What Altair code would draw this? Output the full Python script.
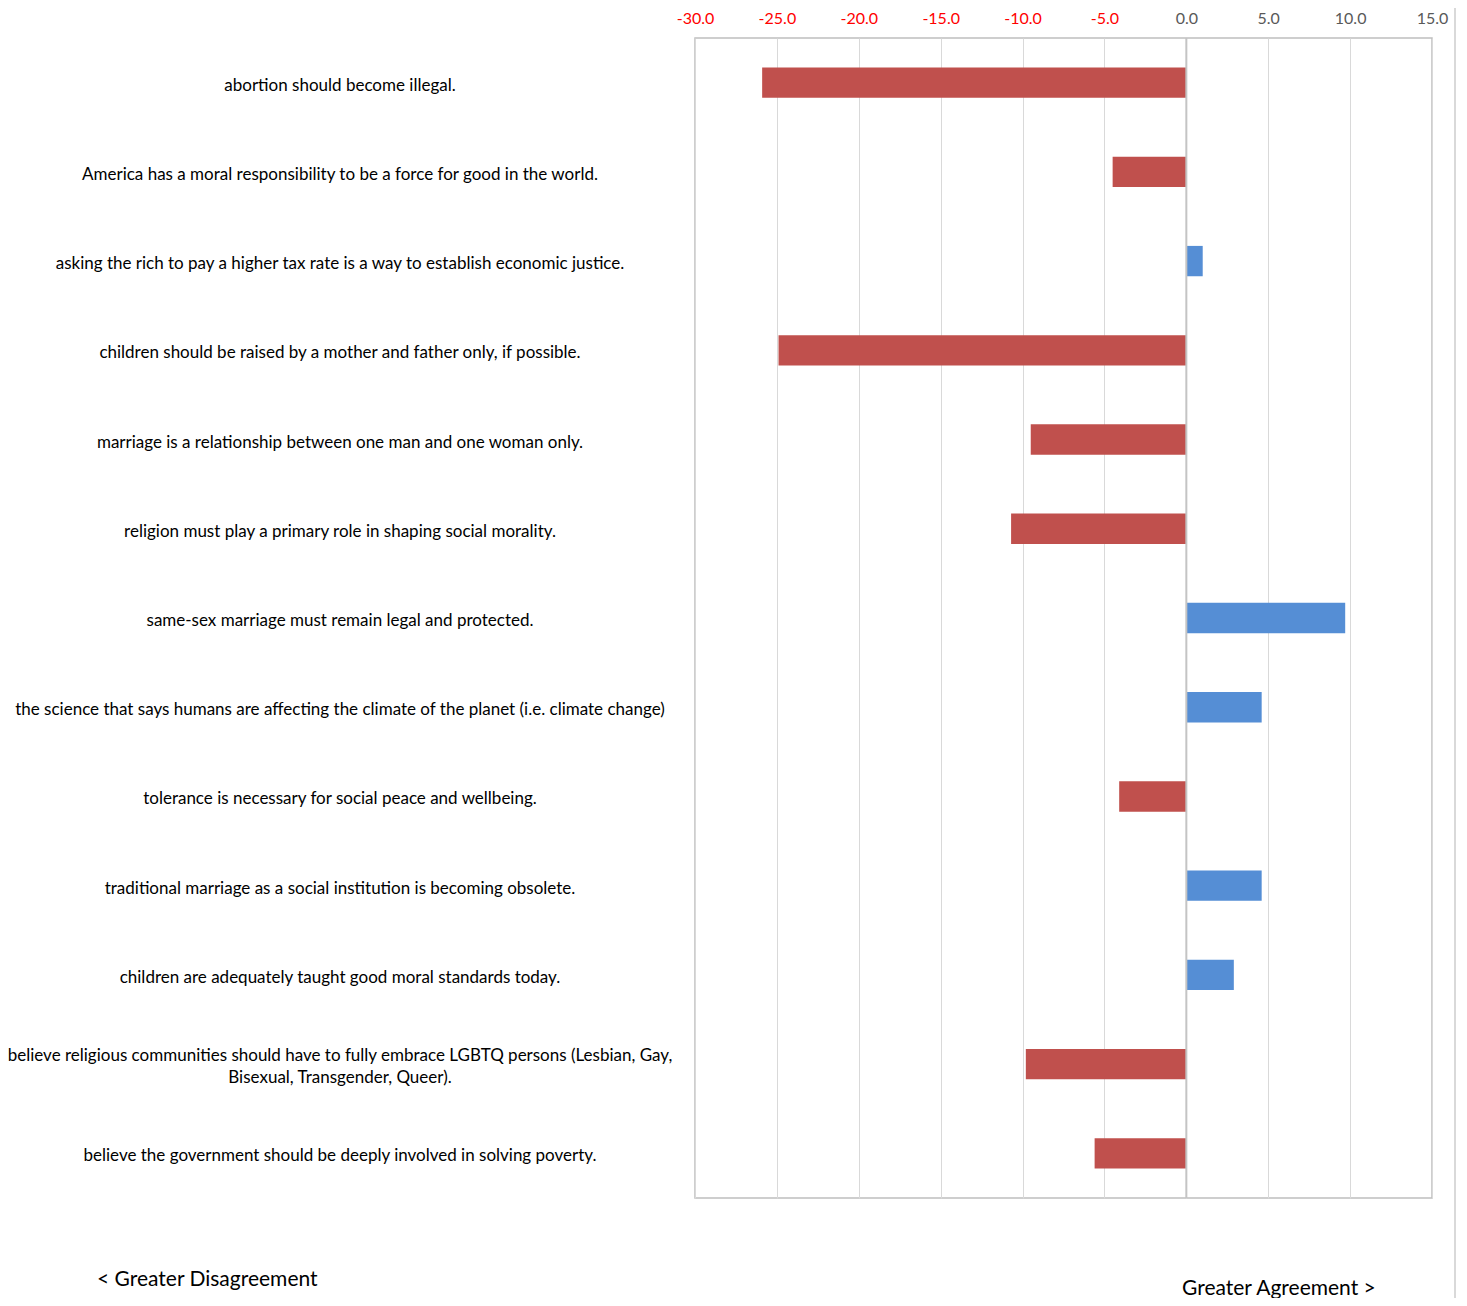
import altair as alt
import pandas as pd

statements = [
    "abortion should become illegal.",
    "America has a moral responsibility to be a force for good in the world.",
    "asking the rich to pay a higher tax rate is a way to establish economic justice.",
    "children should be raised by a mother and father only, if possible.",
    "marriage is a relationship between one man and one woman only.",
    "religion must play a primary role in shaping social morality.",
    "same-sex marriage must remain legal and protected.",
    "the science that says humans are affecting the climate of the planet (i.e. climate change)",
    "tolerance is necessary for social peace and wellbeing.",
    "traditional marriage as a social institution is becoming obsolete.",
    "children are adequately taught good moral standards today.",
    "believe religious communities should have to fully embrace LGBTQ persons (Lesbian, Gay,|Bisexual, Transgender, Queer).",
    "believe the government should be deeply involved in solving poverty.",
]
values = [-25.9, -4.5, 1.0, -24.9, -9.5, -10.7, 9.7, 4.6, -4.1, 4.6, 2.9, -9.8, -5.6]
x_ticks = [-30, -25, -20, -15, -10, -5, 0, 5, 10, 15]

df = pd.DataFrame({"statement": statements, "value": values})

FONT = "Lato"
W, H = 737, 1160

y_enc = alt.Y(
    "statement:N",
    sort=statements,
    axis=None,
    scale=alt.Scale(paddingInner=0.66, paddingOuter=0.33),
)

bars = alt.Chart(df).mark_bar().encode(
    x=alt.X(
        "value:Q",
        scale=alt.Scale(domain=[-30, 15], nice=False, zero=False),
        axis=alt.Axis(
            orient="top",
            values=x_ticks,
            title=None,
            ticks=False,
            domain=False,
            grid=True,
            gridColor="#d9d9d9",
            gridWidth=1,
            labelFont=FONT,
            labelFontSize=16,
            labelPadding=12,
            labelFlush=False,
            labelOverlap=False,
            labelColor={"expr": "datum.value < 0 ? '#ff0000' : '#595959'"},
            labelExpr="(datum.value < 0 ? '-' : '') + format(abs(datum.value), '.1f')",
        ),
    ),
    y=y_enc,
    color=alt.condition(alt.datum.value < 0, alt.value("#c0504d"), alt.value("#558ed5")),
)

zero_line = alt.Chart(pd.DataFrame({"z": [0]})).mark_rule(color="#c4c4c4", strokeWidth=2).encode(
    x="z:Q"
)

labels_single = alt.Chart(df).transform_filter(
    "indexof(datum.statement, '|') < 0"
).mark_text(
    font=FONT, fontSize=17, align="center", baseline="middle",
    color="#000000", dy=3,
).encode(
    x=alt.value(-355),
    y=y_enc,
    text="statement:N",
)

labels_multi = alt.Chart(df).transform_filter(
    "indexof(datum.statement, '|') >= 0"
).mark_text(
    font=FONT, fontSize=17, align="center", baseline="middle", lineBreak="|",
    color="#000000", lineHeight=22, dy=-8,
).encode(
    x=alt.value(-355),
    y=y_enc,
    text="statement:N",
)

dis = alt.Chart(pd.DataFrame({"t": ["< Greater Disagreement"]})).mark_text(
    font=FONT, fontSize=21, align="left", baseline="middle", color="#000000"
).encode(x=alt.value(-598), y=alt.value(1242), text="t:N")

agr = alt.Chart(pd.DataFrame({"t": ["Greater Agreement >"]})).mark_text(
    font=FONT, fontSize=21, align="left", baseline="middle", color="#000000"
).encode(x=alt.value(487), y=alt.value(1251), text="t:N")

edge = alt.Chart(pd.DataFrame({"a": [0]})).mark_rule(color="#d9d9d9", strokeWidth=2).encode(
    x=alt.value(760), y=alt.value(-38), y2=alt.value(1262)
)

chart = alt.layer(bars, zero_line, labels_single, labels_multi, dis, agr, edge).properties(
    width=W,
    height=H,
    autosize=alt.AutoSizeParams(type="none"),
    padding={"left": 687, "top": 30, "right": 24, "bottom": 100},
).configure_view(stroke="#bfbfbf", strokeWidth=1.5)

chart.save("out.html", embed_options={"renderer": "svg", "actions": False})
